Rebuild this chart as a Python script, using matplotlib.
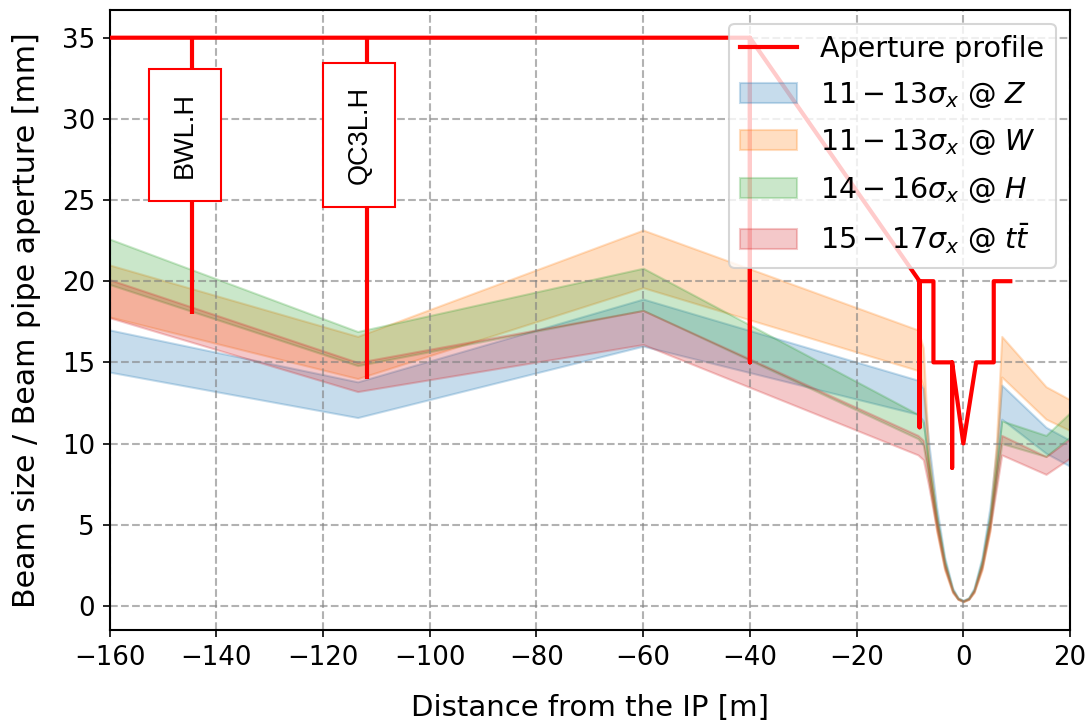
import matplotlib
matplotlib.use("Agg")
import matplotlib.pyplot as plt

# Longitudinal positions (m from the IP) where beam sizes were sampled
s = [-160, -113.5, -60, -8.5, -7.5, -6.5, -5, -3.5, -2, -1, 0,
     1, 2, 3.5, 5, 6.2, 7.2, 15.5, 20]

# Beam envelope bands (lower / upper edge, mm)
z_lo = [14.4, 11.6, 16.0, 11.8, 11.4, 8.6, 5.2, 2.6, 0.95, 0.45, 0.30,
        0.45, 0.95, 2.6, 5.2, 8.2, 11.5, 9.4, 8.6]
z_hi = [17.0, 13.8, 18.9, 13.9, 13.4, 10.1, 6.1, 3.0, 1.1, 0.5, 0.35,
        0.5, 1.1, 3.0, 6.1, 9.6, 13.6, 11.0, 10.2]

w_lo = [17.8, 14.0, 19.6, 14.5, 13.5, 8.0, 4.6, 2.2, 0.8, 0.4, 0.25,
        0.4, 0.8, 2.2, 4.6, 8.6, 14.1, 11.5, 10.8]
w_hi = [21.0, 16.6, 23.15, 17.0, 15.9, 9.4, 5.4, 2.6, 0.95, 0.45, 0.30,
        0.45, 0.95, 2.6, 5.4, 10.1, 16.6, 13.5, 12.7]

h_lo = [19.8, 14.8, 18.2, 10.3, 9.9, 7.8, 4.9, 2.4, 0.9, 0.42, 0.28,
        0.42, 0.9, 2.4, 4.9, 7.6, 10.0, 9.2, 10.4]
h_hi = [22.6, 16.9, 20.8, 11.8, 11.3, 8.9, 5.6, 2.8, 1.0, 0.48, 0.32,
        0.48, 1.0, 2.8, 5.6, 8.7, 11.4, 10.5, 11.9]

t_lo = [17.75, 13.2, 16.1, 9.3, 9.0, 7.4, 4.7, 2.3, 0.85, 0.4, 0.27,
        0.4, 0.85, 2.3, 4.7, 7.2, 9.3, 8.1, 9.1]
t_hi = [20.1, 15.0, 18.2, 10.5, 10.2, 8.4, 5.3, 2.6, 0.95, 0.45, 0.31,
        0.45, 0.95, 2.6, 5.3, 8.2, 10.5, 9.2, 10.3]

band_labels = [r"$11-13\sigma_x$ @ $Z$",
               r"$11-13\sigma_x$ @ $W$",
               r"$14-16\sigma_x$ @ $H$",
               r"$15-17\sigma_x$ @ $t\bar{t}$"]

# Beam pipe aperture profile (m, mm)
ap_s = [-160, -40, -40, -40, -8.2, -8.2, -8.2, -5.6, -5.6, -2.1, -2.1,
        -2.1, 0, 2.4, 5.7, 5.7, 8.8]
ap_r = [35, 35, 15, 35, 20, 11, 20, 20, 15, 15, 8.5,
        15, 10, 15, 15, 20, 20]

# Elements marked on the profile
elem_names = ["BWL.H", "QC3L.H"]
elem_s = [-144.5, -111.8]
elem_bottom = [18, 14]
elem_top = 35
elem_label_y = 29

fig = plt.figure(figsize=(7.26, 4.8), dpi=150)
ax = fig.add_axes([0.1006, 0.125, 0.882, 0.8618])

ax.plot(ap_s, ap_r, color="red", linewidth=2, label="Aperture profile", zorder=4)
ax.vlines(elem_s, elem_bottom, elem_top, color="red", linewidth=2, zorder=4)
for name, x in zip(elem_names, elem_s):
    # label box sits slightly to the left of the element line
    ax.text(x - 1.4, elem_label_y, name, rotation=90, ha="center", va="center",
            fontsize=13, family="Liberation Sans", zorder=5,
            bbox=dict(boxstyle="square,pad=0.85", facecolor="white",
                      edgecolor="red", linewidth=1))

bands = [(z_lo, z_hi), (w_lo, w_hi), (h_lo, h_hi), (t_lo, t_hi)]
for i, ((lo, hi), lab) in enumerate(zip(bands, band_labels)):
    ax.fill_between(s, lo, hi, color=f"C{i}", alpha=0.25, label=lab)

ax.set_xlim(-160, 20)
ax.set_xticks(range(-160, 21, 20))
ax.set_yticks(range(0, 36, 5))
ax.tick_params(labelsize=12.5)
ax.grid(True, linestyle="--", color="gray", alpha=0.6, linewidth=1)
ax.set_xlabel("Distance from the IP [m]", fontsize=14, labelpad=11)
ax.set_ylabel("Beam size / Beam pipe aperture [mm]", fontsize=14.4, labelpad=10)
for sp in ax.spines.values():
    sp.set_linewidth(1)

ax.legend(loc="upper right", fontsize=13.7, labelspacing=0.6)

fig.savefig("out.png", dpi=150)
